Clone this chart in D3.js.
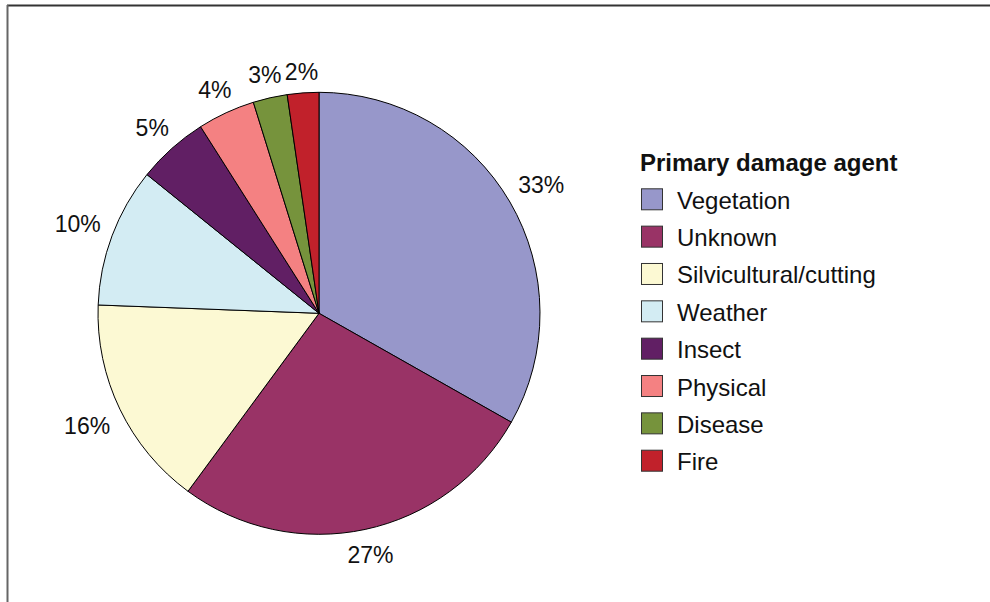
<!DOCTYPE html>
<html>
<head>
<meta charset="utf-8">
<script src="https://cdn.jsdelivr.net/npm/d3@7"></script>
<style>
  body { margin: 0; background: #fff; }
  svg { display: block; font-family: "Liberation Sans", Arial, sans-serif; }
</style>
</head>
<body>
<svg id="chart" width="990" height="602"></svg>
<script>
// Datos ----------------------------------------------------------------------
const agents = ["Vegetation", "Unknown", "Silvicultural/cutting", "Weather", "Insect", "Physical", "Disease", "Fire"];
const shares = [33.2, 26.9, 15.5, 10.2, 5.2, 4.2, 2.5, 2.3];
const colors = ["#9797ca", "#993366", "#fcf9d3", "#d3ecf3", "#611f64", "#f48182", "#76933c", "#c1212b"];
const legendTitle = "Primary damage agent";

// Configuracion --------------------------------------------------------------
const width = 990, height = 602;
const cx = 319, cy = 313.3, radius = 221;
const labelGap = 12;

const svg = d3.select("#chart");

// Marco
svg.append("line").attr("x1", 7).attr("x2", width).attr("y1", 5.5).attr("y2", 5.5)
  .attr("stroke", "#333").attr("stroke-width", 2);
svg.append("line").attr("x1", 7.5).attr("x2", 7.5).attr("y1", 5).attr("y2", height)
  .attr("stroke", "#666").attr("stroke-width", 2);

// Pie ------------------------------------------------------------------------
const pie = d3.pie().sort(null).value(d => d.value);
const arc = d3.arc().innerRadius(0).outerRadius(radius);
const data = pie(agents.map((a, i) => ({ name: a, value: shares[i], color: colors[i] })));

const g = svg.append("g").attr("transform", `translate(${cx},${cy})`);

g.selectAll("path.slice")
  .data(data)
  .join("path")
  .attr("class", "slice")
  .attr("d", arc)
  .attr("fill", d => d.data.color)
  .attr("stroke", "#000")
  .attr("stroke-width", 1);

// Etiquetas de porcentaje
const total = d3.sum(shares);
g.selectAll("text.pct")
  .data(data)
  .join("text")
  .attr("class", "pct")
  .attr("text-anchor", "middle")
  .attr("dominant-baseline", "central")
  .attr("font-size", 23)
  .attr("fill", "#111")
  .text(d => Math.round(d.data.value / total * 100) + "%")
  .each(function(d) {
    const a = (d.startAngle + d.endAngle) / 2;
    const bb = this.getBBox();
    const s = Math.sin(a), c = -Math.cos(a);
    const ext = bb.width / 2 * Math.abs(s) + 8.5 * Math.abs(c);
    const dist = radius + labelGap + ext;
    d3.select(this).attr("x", s * dist).attr("y", c * dist + 1);
  });

// Leyenda --------------------------------------------------------------------
const legend = svg.append("g").attr("transform", "translate(641,0)");
legend.append("text")
  .attr("x", -1).attr("y", 162)
  .attr("dominant-baseline", "central")
  .attr("font-size", 24).attr("font-weight", "bold")
  .attr("fill", "#111")
  .text(legendTitle);

const rowY = d3.scalePoint().domain(agents).range([199.3, 460.7]);
const item = legend.selectAll("g.item")
  .data(data)
  .join("g")
  .attr("class", "item")
  .attr("transform", d => `translate(0,${rowY(d.data.name)})`);

item.append("rect")
  .attr("x", 0.5).attr("y", -10.5).attr("width", 21).attr("height", 21)
  .attr("fill", d => d.data.color)
  .attr("stroke", "#333").attr("stroke-width", 1);

item.append("text")
  .attr("x", 36).attr("y", 1)
  .attr("dominant-baseline", "central")
  .attr("font-size", 24)
  .attr("fill", "#111")
  .text(d => d.data.name);
</script>
</body>
</html>
